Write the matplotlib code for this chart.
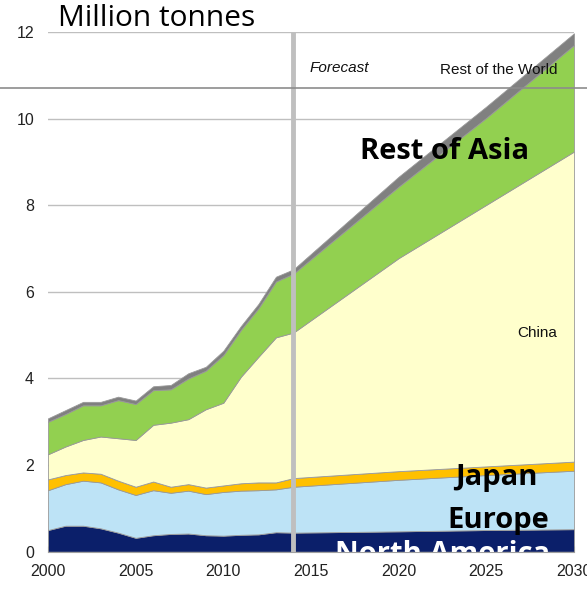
import matplotlib.pyplot as plt
import matplotlib.lines as mlines
from matplotlib import font_manager

# years: history 2000-2014, then forecast points
years = list(range(2000, 2015)) + [2020, 2025, 2030]

# cumulative tops (million tonnes)
north_america_top = [0.50, 0.60, 0.60, 0.54, 0.44, 0.32, 0.38, 0.41, 0.42, 0.38, 0.37, 0.39, 0.40, 0.45, 0.44,
                     0.47, 0.50, 0.52]
europe_top = [1.42, 1.56, 1.64, 1.60, 1.44, 1.31, 1.42, 1.36, 1.41, 1.33, 1.38, 1.41, 1.42, 1.44, 1.50,
              1.66, 1.77, 1.87]
japan_top = [1.67, 1.77, 1.83, 1.80, 1.64, 1.50, 1.62, 1.50, 1.56, 1.48, 1.53, 1.58, 1.60, 1.60, 1.70,
             1.86, 1.97, 2.08]
china_top = [2.25, 2.43, 2.58, 2.66, 2.62, 2.58, 2.93, 2.98, 3.06, 3.29, 3.44, 4.04, 4.50, 4.95, 5.06,
             6.78, 8.01, 9.24]
rest_of_asia_top = [3.00, 3.18, 3.38, 3.38, 3.50, 3.41, 3.73, 3.75, 4.00, 4.18, 4.54, 5.12, 5.62, 6.24, 6.42,
                    8.43, 10.02, 11.70]
rest_of_world_top = [3.08, 3.27, 3.46, 3.46, 3.58, 3.49, 3.82, 3.85, 4.12, 4.27, 4.64, 5.21, 5.72, 6.35, 6.52,
                     8.66, 10.28, 11.97]

regions = ['North America', 'Europe', 'Japan', 'China', 'Rest of Asia', 'Rest of the World']
colors = ['#0B1F6A', '#BDE3F6', '#FFC000', '#FFFFCC', '#92D050', '#808080']

tops = [north_america_top, europe_top, japan_top, china_top, rest_of_asia_top, rest_of_world_top]
layers = []
prev = [0.0] * len(years)
for t in tops:
    layers.append([a - b for a, b in zip(t, prev)])
    prev = t

# narrow font for ticks / small labels if we have one
installed = {f.name for f in font_manager.fontManager.ttflist}
if 'Liberation Sans Narrow' in installed:
    narrow, small = 'Liberation Sans Narrow', 12.5
else:
    narrow, small = 'Liberation Sans', 11

fig = plt.figure(figsize=(5.87, 5.92), dpi=100)
ax = fig.add_axes([48 / 587, 1 - 551.7 / 592, (574 - 48) / 587, (551.7 - 32) / 592])

ax.stackplot(years, layers, colors=colors, edgecolor='#999999', linewidth=0.6, zorder=2)

ax.set_xlim(2000, 2030)
ax.set_ylim(0, 12)
ax.set_yticks(range(0, 13, 2))
ax.set_xticks(range(2000, 2031, 5))
ax.set_xticks(range(2000, 2031), minor=True)
ax.grid(axis='y', color='#BFBFBF', linewidth=1, zorder=0)
ax.set_axisbelow(True)

for lab in ax.get_xticklabels() + ax.get_yticklabels():
    lab.set_family(narrow)
    lab.set_fontsize(small + 0.5)
    lab.set_color('#222222')
ax.tick_params(axis='y', length=0, pad=10)
ax.tick_params(axis='x', which='both', direction='in', length=4, color='#A0A0A0', pad=9)

for s in ['top', 'right', 'left']:
    ax.spines[s].set_visible(False)
ax.spines['bottom'].set_color('#A0A0A0')

# forecast divider
ax.axvline(2014, color='#BFBFBF', linewidth=3.5, zorder=3)

# slide title rule across the whole figure
fig.add_artist(mlines.Line2D([0, 1], [1 - 88 / 592, 1 - 88 / 592], color='#8C8C8C', linewidth=1.2))

fig.text(58 / 587, 1 - 19 / 592, 'Million tonnes', family='Open Sans', fontsize=21.5, va='center', ha='left')

ax.text(2014.9, 11.17, 'Forecast', family=narrow, style='italic', fontsize=small, va='center', ha='left',
        color='#111111')
ax.text(2029.05, 11.12, 'Rest of the World', family=narrow, fontsize=small, va='center', ha='right',
        color='#111111')
ax.text(2022.6, 9.23, 'Rest of Asia', family='Open Sans', fontweight='bold', fontsize=21,
        va='center', ha='center')
ax.text(2029.05, 5.05, 'China', family=narrow, fontsize=small, va='center', ha='right', color='#111111')
ax.text(2025.6, 1.72, 'Japan', family='Open Sans', fontweight='bold', fontsize=21, va='center', ha='center')
ax.text(2025.7, 0.73, 'Europe', family='Open Sans', fontweight='bold', fontsize=21, va='center', ha='center')
ax.text(2022.5, -0.24, 'North America', family='Open Sans', fontweight='bold', fontsize=21, color='white',
        va='baseline', ha='center', clip_on=True)

fig.savefig('out.png', dpi=100)
